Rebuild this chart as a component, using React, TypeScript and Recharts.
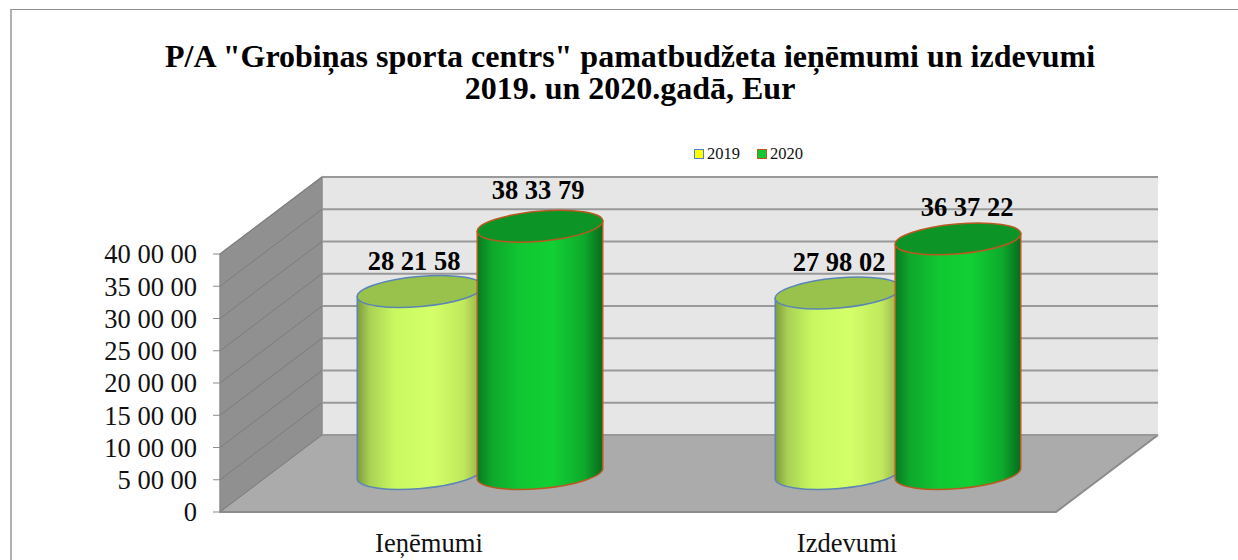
import React from 'react';
import { BarChart, Bar, XAxis, YAxis, CartesianGrid, LabelList, Legend } from 'recharts';

const categories = ['Ieņēmumi', 'Izdevumi'];
const values2019 = [282158, 279802];
const values2020 = [383379, 363722];
const yTicks = [0, 50000, 100000, 150000, 200000, 250000, 300000, 350000, 400000];
const titleLines = ['P/A "Grobiņas sporta centrs" pamatbudžeta ieņēmumi un izdevumi', '2019. un 2020.gadā, Eur'];

const chartData = categories.map((name, i) => ({ name, y2019: values2019[i], y2020: values2020[i] }));

const WIDTH = 1238;
const HEIGHT = 560;
const PLOT = { left: 220, right: 1056, top: 254, bottom: 512 };
// perspective shift from the front plane to the back wall
const DEPTH_X = 102;
const DEPTH_Y = -77;
const SERIF = '"Liberation Serif", "Times New Roman", serif';

const formatTick = (v: number) => {
  if (v === 0) return '0';
  const s = String(v);
  return s.slice(0, -4) + ' ' + s.slice(-4, -2) + ' ' + s.slice(-2);
};

// walls sit behind the transparent chart, the grid layer would end up under them otherwise
const Walls = () => {
  const { left, right, top, bottom } = PLOT;
  const bl = left + DEPTH_X;
  const br = right + DEPTH_X;
  const bt = top + DEPTH_Y;
  const bb = bottom + DEPTH_Y;
  return (
    <svg width={WIDTH} height={HEIGHT} style={{ position: 'absolute', left: 0, top: 0 }}>
      <polygon points={`${bl},${bt} ${br},${bt} ${br},${bb} ${bl},${bb}`} fill="#e6e6e6" />
      <polygon points={`${left},${top} ${bl},${bt} ${bl},${bb} ${left},${bottom}`} fill="#909090" stroke="#8a8a8a" strokeWidth={1.5} />
      <polygon points={`${left},${bottom} ${right},${bottom} ${br},${bb} ${bl},${bb}`} fill="#ababab" />
      <polyline points={`${left},${bottom} ${right},${bottom} ${br},${bb}`} fill="none" stroke="#8c8c8c" strokeWidth={2} />
    </svg>
  );
};

const gridLine = (p: any) => (
  <g key={p.key ?? p.y1}>
    <line x1={p.x1} y1={p.y1} x2={p.x1 + DEPTH_X} y2={p.y1 + DEPTH_Y} stroke="#7c7c7c" strokeWidth={1} />
    <line x1={p.x1 + DEPTH_X} y1={p.y1 + DEPTH_Y} x2={p.x2 + DEPTH_X} y2={p.y1 + DEPTH_Y} stroke="#999999" strokeWidth={2} />
  </g>
);

const cylinder = (gradient: string, top: string, stroke: string) => (p: any) => {
  const rx = p.width / 2;
  const ry = 15;
  const rot = -5;
  const cx = p.x + rx + DEPTH_X / 2;
  const topY = p.y + DEPTH_Y / 2;
  const botY = p.y + p.height + DEPTH_Y / 2;
  const sx = rx * Math.cos((rot * Math.PI) / 180);
  const sy = rx * Math.sin((rot * Math.PI) / 180);
  const body =
    `M${cx - sx},${topY - sy} L${cx - sx},${botY - sy} ` +
    `A${rx},${ry} ${rot} 0 0 ${cx + sx},${botY + sy} L${cx + sx},${topY + sy} Z`;
  return (
    <g>
      <path d={body} fill={`url(#${gradient})`} stroke={stroke} strokeWidth={1.5} />
      <ellipse cx={cx} cy={topY} rx={rx} ry={ry} transform={`rotate(${rot} ${cx} ${topY})`} fill={top} stroke={stroke} strokeWidth={1.5} />
    </g>
  );
};

const barLabel = (nudge: number[][]) => (p: any) => (
  <text
    x={p.x + p.width / 2 + DEPTH_X / 2 + nudge[p.index][0]}
    y={p.y + DEPTH_Y / 2 + nudge[p.index][1]}
    textAnchor="middle"
    dominantBaseline="central"
    fontFamily={SERIF}
    fontWeight="bold"
    fontSize={26.5}
    fill="#000"
  >
    {formatTick(p.value)}
  </text>
);

const LegendBox = () => (
  <div style={{ display: 'flex', fontFamily: SERIF, fontSize: 16.5, color: '#111', alignItems: 'center' }}>
    <span style={{ width: 8, height: 8, background: '#ffff00', border: '1.5px solid #4f81bd', marginRight: 3 }} />
    <span style={{ marginRight: 17 }}>2019</span>
    <span style={{ width: 8, height: 8, background: '#10c832', border: '1.5px solid #b85a20', marginRight: 3 }} />
    <span>2020</span>
  </div>
);

export default function App() {
  return (
    <div style={{ position: 'absolute', left: 0, top: 0, width: WIDTH, height: HEIGHT, overflow: 'hidden', background: '#fff' }}>
      <div style={{ position: 'absolute', left: 10, top: 9, width: 1300, height: 600, borderLeft: '2px solid #b0b0b0', borderTop: '1.5px solid #8e8e8e' }} />
      <Walls />
      <BarChart
        width={WIDTH}
        height={HEIGHT}
        data={chartData}
        barSize={126}
        barGap={-6}
        margin={{ left: 100, right: WIDTH - PLOT.right, top: PLOT.top, bottom: 0 }}
        style={{ position: 'absolute', left: 0, top: 0 }}
      >
        <defs>
          <linearGradient id="lightBody" x1="0" y1="0" x2="1" y2="0">
            <stop offset="0" stopColor="#7f9a3e" />
            <stop offset="0.1" stopColor="#a9d155" />
            <stop offset="0.3" stopColor="#c8f960" />
            <stop offset="0.6" stopColor="#d4ff69" />
            <stop offset="0.85" stopColor="#c0e85c" />
            <stop offset="1" stopColor="#8fa94a" />
          </linearGradient>
          <linearGradient id="greenBody" x1="0" y1="0" x2="1" y2="0">
            <stop offset="0" stopColor="#0a7a20" />
            <stop offset="0.12" stopColor="#0ea82c" />
            <stop offset="0.35" stopColor="#10c832" />
            <stop offset="0.6" stopColor="#11d034" />
            <stop offset="0.85" stopColor="#0daa2c" />
            <stop offset="1" stopColor="#096a1d" />
          </linearGradient>
        </defs>
        <CartesianGrid vertical={false} horizontal={gridLine} />
        <XAxis dataKey="name" height={48} axisLine={false} tickLine={false} tickMargin={15} interval={0} tick={{ fontFamily: SERIF, fontSize: 26.6, fill: '#111' }} />
        <YAxis
          domain={[0, 400000]}
          ticks={yTicks}
          width={120}
          axisLine={false}
          tickSize={7}
          tickMargin={16}
          tickLine={{ stroke: '#8c8c8c' }}
          tickFormatter={formatTick}
          interval={0}
          tick={{ fontFamily: SERIF, fontSize: 26.5, fill: '#111' }}
        />
        <Legend content={<LegendBox />} wrapperStyle={{ position: 'absolute', left: 694, top: 144, width: 'auto', height: 0, bottom: 'auto' }} />
        <Bar dataKey="y2019" name="2019" fill="#ffff00" isAnimationActive={false} shape={cylinder('lightBody', '#99c24d', '#5b85b5')}>
          <LabelList dataKey="y2019" content={barLabel([[-6, -31], [1, -31]])} />
        </Bar>
        <Bar dataKey="y2020" name="2020" fill="#10c832" isAnimationActive={false} shape={cylinder('greenBody', '#0d9427', '#b85a20')}>
          <LabelList dataKey="y2020" content={barLabel([[-2, -36], [9, -32]])} />
        </Bar>
        {titleLines.map((line, i) => (
          <text key={line} x={630} y={56 + i * 32} textAnchor="middle" dominantBaseline="central" fontFamily={SERIF} fontWeight="bold" fontSize={32} fill="#000">
            {line}
          </text>
        ))}
      </BarChart>
    </div>
  );
}
